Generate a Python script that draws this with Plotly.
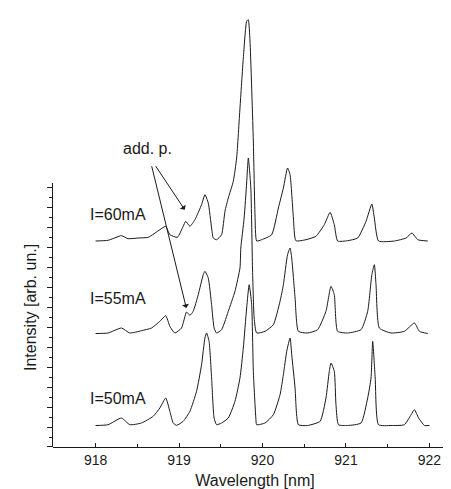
import plotly.graph_objects as go

# ---- data ----
wl_60 = [918.00, 918.15, 918.31, 918.39, 918.51, 918.63, 918.77, 918.84, 918.89, 918.98,
         919.05, 919.08, 919.13, 919.19, 919.27, 919.31, 919.35, 919.39, 919.41, 919.45,
         919.51, 919.55, 919.59, 919.65, 919.69, 919.73, 919.77, 919.81, 919.83, 919.85,
         919.89, 919.91, 919.93, 919.99, 920.11, 920.19, 920.25, 920.30, 920.33, 920.37,
         920.40, 920.52, 920.64, 920.74, 920.81, 920.86, 920.90, 921.02, 921.14, 921.24,
         921.31, 921.34, 921.39, 921.58, 921.72, 921.79, 921.86, 921.98]
int_60 = [0.0, 0.07, 0.53, 0.23, 0.30, 0.37, 1.13, 1.47, 0.63, 0.37,
          1.47, 1.97, 1.47, 2.13, 3.63, 4.63, 3.80, 1.30, 0.30, 0.13,
          0.63, 2.97, 4.30, 5.97, 8.30, 13.3, 18.3, 21.97, 22.13, 20.0,
          10.0, 2.63, 0.0, 0.13, 0.63, 3.3, 5.3, 7.3, 6.63, 2.3,
          0.03, 0.13, 0.47, 1.63, 2.87, 1.63, 0.0, 0.03, 0.30, 1.97,
          3.70, 2.30, 0.0, 0.0, 0.30, 0.80, 0.13, 0.0]

wl_55 = [918.00, 918.15, 918.31, 918.41, 918.55, 918.67, 918.77, 918.84, 918.89, 918.95,
         919.03, 919.09, 919.13, 919.17, 919.23, 919.29, 919.31, 919.35, 919.39, 919.42,
         919.45, 919.51, 919.55, 919.59, 919.67, 919.73, 919.74, 919.78, 919.81, 919.83,
         919.86, 919.88, 919.90, 919.93, 920.03, 920.13, 920.21, 920.25, 920.30, 920.33,
         920.35, 920.39, 920.43, 920.54, 920.66, 920.76, 920.82, 920.86, 920.90, 921.02,
         921.18, 921.26, 921.31, 921.34, 921.36, 921.40, 921.54, 921.70, 921.82, 921.88,
         921.98]
int_55 = [0.0, 0.05, 0.55, 0.05, 0.28, 0.55, 1.22, 1.78, 0.72, 0.05,
          0.55, 2.15, 1.82, 2.22, 3.88, 5.88, 6.22, 5.55, 2.88, 0.55,
          0.05, 0.38, 1.22, 2.22, 4.22, 6.55, 8.55, 11.55, 15.05, 17.55,
          14.55, 6.55, 1.55, 0.05, 0.22, 0.88, 3.22, 4.88, 7.88, 8.55,
          7.55, 3.55, 0.22, 0.05, 0.38, 2.22, 4.72, 3.88, 0.22, 0.05,
          0.38, 2.22, 5.88, 6.88, 4.88, 0.55, 0.05, 0.22, 1.05, 0.22,
          0.0]

wl_50 = [918.00, 918.15, 918.31, 918.41, 918.55, 918.69, 918.77, 918.84, 918.89, 918.93,
         918.97, 919.05, 919.13, 919.21, 919.27, 919.31, 919.33, 919.36, 919.39, 919.42,
         919.45, 919.51, 919.59, 919.67, 919.73, 919.77, 919.81, 919.84, 919.87, 919.89,
         919.92, 919.93, 920.03, 920.13, 920.21, 920.25, 920.29, 920.33, 920.35, 920.39,
         920.43, 920.54, 920.69, 920.76, 920.80, 920.82, 920.86, 920.88, 920.91, 921.02,
         921.18, 921.26, 921.30, 921.32, 921.35, 921.39, 921.54, 921.70, 921.78, 921.82,
         921.87, 921.94, 922.00]
int_50 = [0.0, 0.08, 0.75, 0.08, 0.25, 0.92, 1.75, 2.75, 1.42, 0.25,
          0.02, 0.42, 1.42, 3.42, 6.08, 8.75, 9.25, 8.42, 4.75, 0.75,
          0.08, 0.25, 0.75, 2.42, 4.75, 7.75, 11.75, 14.08, 12.08, 5.42,
          0.75, 0.08, 0.25, 1.08, 3.08, 5.08, 7.42, 8.75, 7.08, 3.75,
          0.08, 0.0, 0.42, 2.75, 5.42, 6.25, 5.42, 2.08, 0.08, 0.0,
          0.25, 2.75, 4.75, 8.42, 4.75, 0.08, 0.0, 0.08, 1.08, 1.58,
          0.75, 0.0, 0.0]

labels = ["I=50mA", "I=55mA", "I=60mA"]
offsets = [2.15, 11.35, 20.6]
label_y = [4.9, 14.9, 23.3]
x_ticks = [918, 919, 920, 921, 922]

series = [(wl_50, int_50), (wl_55, int_55), (wl_60, int_60)]

FONT = "Liberation Sans, Arial, sans-serif"
INK = "#1a1a1a"

fig = go.Figure()
# carrier trace for the short visible intensity axis (drawn first)
fig.add_trace(go.Scatter(x=[None], y=[None], yaxis="y2", showlegend=False,
                         hoverinfo="skip"))
for (wl, inten), off in zip(series, offsets):
    fig.add_trace(go.Scatter(x=wl, y=[v + off for v in inten], mode="lines",
                             line=dict(color=INK, width=1, shape="spline", smoothing=0.5),
                             showlegend=False, hoverinfo="skip", cliponaxis=False))

annotations = []
for lab, ly in zip(labels, label_y):
    annotations.append(dict(x=917.91, y=ly, xref="x", yref="y", text=lab,
                            showarrow=False, xanchor="left", yanchor="middle",
                            font=dict(size=16, color=INK, family=FONT)))
annotations.append(dict(x=918.62, y=29.85, xref="x", yref="y", text="add. p.",
                        showarrow=False, font=dict(size=16, color=INK, family=FONT)))
for tip, tail in [((919.068, 23.73), (918.709, 28.23)),
                  ((919.087, 13.9), (918.668, 28.23))]:
    annotations.append(dict(x=tip[0], y=tip[1], ax=tail[0], ay=tail[1],
                            xref="x", yref="y", axref="x", ayref="y", text="",
                            showarrow=True, arrowhead=1, arrowsize=1.2,
                            arrowwidth=1, arrowcolor=INK))
annotations.append(dict(x=(22 - 45) / 404, y=(439 - 300) / 434, xref="paper", yref="paper",
                        text="Intensity [arb. un.]", xanchor="center", yanchor="middle",
                        showarrow=False, textangle=-90,
                        font=dict(size=16, color=INK, family=FONT)))

fig.update_layout(
    width=451, height=489,
    margin=dict(l=45, r=2, t=5, b=50),
    paper_bgcolor="white", plot_bgcolor="rgba(0,0,0,0)",
    font=dict(family=FONT, color=INK),
    xaxis=dict(range=[917.49, 922.33], tickvals=x_ticks, ticks="inside", ticklen=4,
               tickcolor=INK, showline=True, linecolor=INK, linewidth=1,
               showgrid=False, zeroline=False, tickfont=dict(size=14),
               minor=dict(dtick=0.5, ticks="inside", ticklen=3, tickcolor=INK),
               title=dict(text="Wavelength [nm]", font=dict(size=16), standoff=8)),
    yaxis=dict(range=[0, 43.4], visible=False),
    yaxis2=dict(domain=[0, 0.608], range=[0, 26.4], anchor="x", showline=True,
                linecolor=INK, linewidth=1, ticks="outside", ticklen=5, tickcolor=INK,
                dtick=2, tick0=0, showticklabels=False, showgrid=False, zeroline=False,
                minor=dict(dtick=1, ticks="outside", ticklen=3, tickcolor=INK)),
    annotations=annotations,
)
fig.write_html("out.html")
